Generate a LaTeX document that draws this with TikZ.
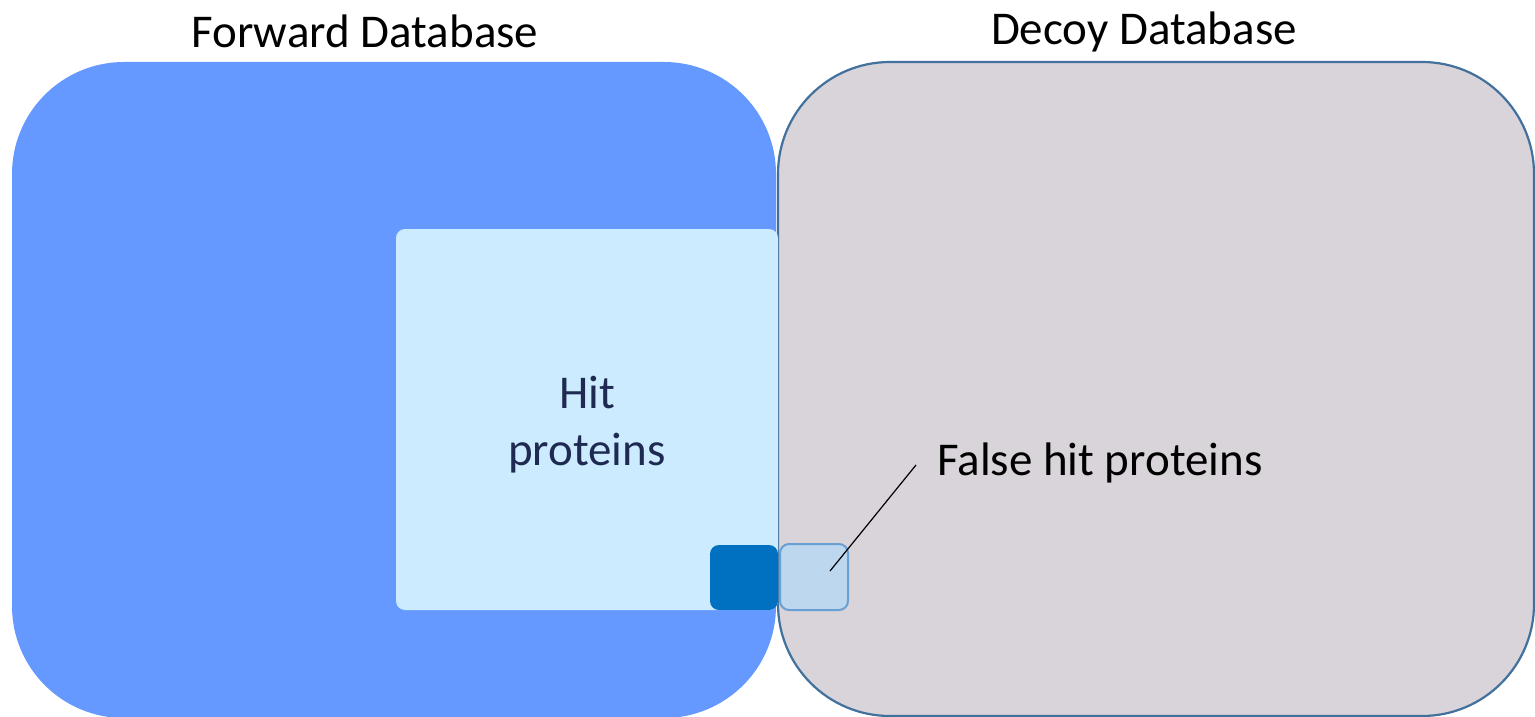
\documentclass[tikz,border=0pt]{standalone}
\usepackage{fontspec}
\setmainfont{Carlito}
\begin{document}
\begin{tikzpicture}[x=1pt,y=-1pt,
  box/.style={rectangle,inner sep=0pt,outer sep=0pt,anchor=north west},
  lbl/.style={font=\fontsize{47}{57}\selectfont,inner sep=0pt}]
\useasboundingbox[fill=white] (0,0) rectangle (1535,717);
\definecolor{fwdblue}{HTML}{6699FF}
\definecolor{decoygray}{HTML}{D9D3DA}
\definecolor{decoyline}{HTML}{41719C}
\definecolor{hitfill}{HTML}{CCEBFF}
\definecolor{darkblue}{HTML}{0070C0}
\definecolor{falsefill}{HTML}{BDD7EE}
\definecolor{falseline}{HTML}{6A9FD4}
\definecolor{navy}{HTML}{1F2A52}
\node[box,fill=fwdblue,rounded corners=112pt,minimum width=764pt,minimum height=656pt] (fwd) at (12,62) {};
\node[box,fill=decoygray,draw=decoyline,line width=2.2pt,rounded corners=112pt,minimum width=756pt,minimum height=654pt] (decoy) at (778,62) {};
\node[box,fill=hitfill,rounded corners=9pt,minimum width=382pt,minimum height=381pt] (hit) at (396,229) {};
\node[box,fill=darkblue,rounded corners=9pt,minimum width=68pt,minimum height=65pt] (dark) at (710,545) {};
\node[box,fill=falsefill,draw=falseline,line width=2pt,rounded corners=9pt,minimum width=68pt,minimum height=66pt] (false) at (780,544) {};
\node[lbl] (fwdlbl) at (365,31) {Forward Database};
\node[lbl] (decoylbl) at (1144,32) {Decoy Database};
\node[lbl,text=navy,align=center] (hitlbl) at (587,425) {Hit\\proteins};
\node[lbl,anchor=west] (flbl) at (937,463) {False hit proteins};
\coordinate (tip) at (830,571);
\coordinate (lend) at (916,465);
\draw[line width=1.2pt] (tip) -- (lend);
\end{tikzpicture}
\end{document}
